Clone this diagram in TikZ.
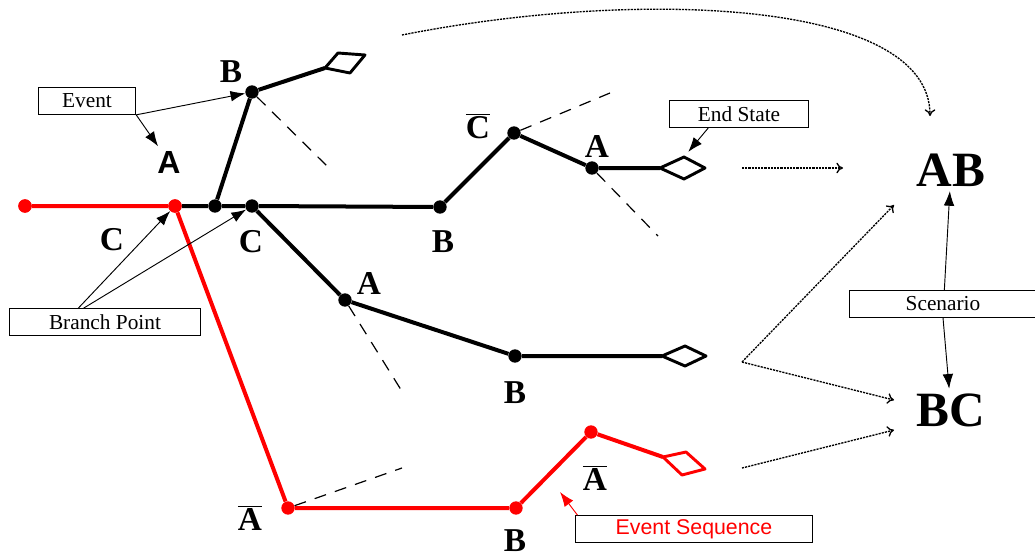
\documentclass[tikz,border=0pt]{standalone}
\usepackage{fontspec}
\setmainfont{Liberation Serif}
\newfontfamily\arialfont{Liberation Sans}
\usetikzlibrary{arrows.meta}

\tikzset{
  track/.style={line width=3pt, line join=round},
  box/.style={line width=2.2pt, line join=round},
  dot/.style={circle, fill, inner sep=0pt, minimum size=10pt},
  cut/.style={line width=0.9pt, dash pattern=on 9pt off 7pt},
  lab/.style={font=\bfseries\fontsize{25}{27}\selectfont},
  big/.style={font=\bfseries\fontsize{37}{40}\selectfont},
  note/.style={draw, line width=0.8pt, inner sep=0pt, minimum height=20pt,
    font=\fontsize{16}{18}\selectfont},
  pointer/.style={-{Latex[length=11pt,width=8pt]}, line width=0.7pt},
  flow/.style={line width=1pt, dash pattern=on 1.6pt off 0.8pt, -{To[length=5pt,width=8pt]}},
}

\begin{document}
\begin{tikzpicture}[x=0.75pt, y=-0.75pt]
  \useasboundingbox (0,0) rectangle (1035,560);

  % points of the tree
  \node[dot, red] (rs) at (25,206) {};
  \node[dot, red] (rb) at (175,206) {};
  \node[dot] (k1) at (215,206) {};
  \node[dot] (k2) at (252,206) {};
  \node[dot] (bu) at (252,92) {};
  \node[dot] (kb) at (440,207) {};
  \node[dot] (kc) at (514,133) {};
  \node[dot] (ka) at (592,168) {};
  \node[dot] (ma) at (345,300) {};
  \node[dot] (mb) at (515,356) {};
  \node[dot, red] (ra) at (288,508) {};
  \node[dot, red] (rbb) at (516,508) {};
  \node[dot, red] (rc) at (591,432) {};

  % end states
  \coordinate (d1) at (325,68);
  \coordinate (d2) at (660,168);
  \coordinate (d2t) at (684,157);
  \coordinate (d3) at (662,356);
  \coordinate (d4) at (663,457);

  \draw[track] (rb) -- (k1) -- (k2) -- (kb) -- (kc) -- (ka) -- (d2);
  \draw[track] (k1) -- (bu) -- (d1);
  \draw[track] (k2) -- (ma) -- (mb) -- (d3);
  \draw[track, red] (rs) -- (rb) -- (ra) -- (rbb) -- (rc) -- (d4);

  \draw[box] (d1) -- (338,53) -- (365,55) -- (350,73) -- cycle;
  \draw[box] (d2) -- (d2t) -- (705,168) -- (684,179) -- cycle;
  \draw[box] (d3) -- (685,346) -- (706,356) -- (685,366) -- cycle;
  \draw[box, red] (d4) -- (686,452) -- (705,469) -- (682,475) -- cycle;

  \node[dot, red] at (rb) {};
  \node[dot, red] at (rs) {};

  % cuts
  \draw[cut] (bu) -- (327,166);
  \draw[cut] (kc) -- (610,93);
  \draw[cut] (ka) -- (658,236);
  \draw[cut] (ma) -- (403,393);
  \draw[cut] (ra) -- (402,468);

  % event labels
  \node[lab] (lb1) at (231,72) {B};
  \node[font=\arialfont\bfseries\fontsize{24}{26}\selectfont] (la1) at (169,162) {A};
  \node[lab] (lc1) at (112,240) {C};
  \node[lab] (lc2) at (251,242) {C};
  \node[lab] (lb2) at (443,242) {B};
  \node[lab] (lc3) at (478,126) {$\overline{\textbf{C}}$};
  \node[lab] (la2) at (597,146) {A};
  \node[lab] (la3) at (369,283) {A};
  \node[lab] (lb3) at (515,393) {B};
  \node[lab] (la4) at (250,518) {$\overline{\textbf{A}}$};
  \node[lab] (lb4) at (515,541) {B};
  \node[lab] (la5) at (595,478) {$\overline{\textbf{A}}$};

  \node[big] (ab) at (951,170) {AB};
  \node[big] (bc) at (951,410) {BC};

  % notes
  \node[note, minimum width=73pt] (ev) at (87,101) {Event};
  \node[note, minimum width=143pt] (bp) at (105,322) {Branch Point};
  \node[note, minimum width=104pt] (es) at (739,114) {End State};
  \node[note, minimum width=140pt] (sc) at (943,304) {Scenario};
  \node[note, minimum width=178pt, text=red, font=\arialfont\fontsize{16}{18}\selectfont] (sq) at (694,529) {Event Sequence};

  \draw[pointer] (ev.south east) -- (bu);
  \draw[pointer] (ev.south east) -- (la1);
  \draw[pointer] ([xshift=-20pt]bp.north) -- (rb);
  \draw[pointer] ([xshift=-16pt]bp.north) -- (k2);
  \draw[pointer, shorten >=5pt] ([xshift=-23pt]es.south) -- (d2t);
  \draw[pointer] ([xshift=1pt]sc.north) -- (ab);
  \draw[pointer] (sc.south) -- (bc);
  \coordinate (sqtip) at (560,492);
  \draw[pointer, red] ([xshift=2pt]sq.north west) -- (sqtip);

  % scenarios
  \coordinate (f1) at (402,35);
  \coordinate (f1e) at (930,116);
  \coordinate (f2) at (742,168);
  \coordinate (f2e) at (843,168);
  \coordinate (f3) at (742,362);
  \coordinate (f3a) at (894,205);
  \coordinate (f3b) at (894,400);
  \coordinate (f4) at (742,468);
  \coordinate (f4e) at (894,430);
  \draw[flow] (f1) .. controls (640,-12) and (930,0) .. (f1e);
  \draw[flow] (f2) -- (f2e);
  \draw[flow] (f3) -- (f3a);
  \draw[flow] (f3) -- (f3b);
  \draw[flow] (f4) -- (f4e);
\end{tikzpicture}
\end{document}
